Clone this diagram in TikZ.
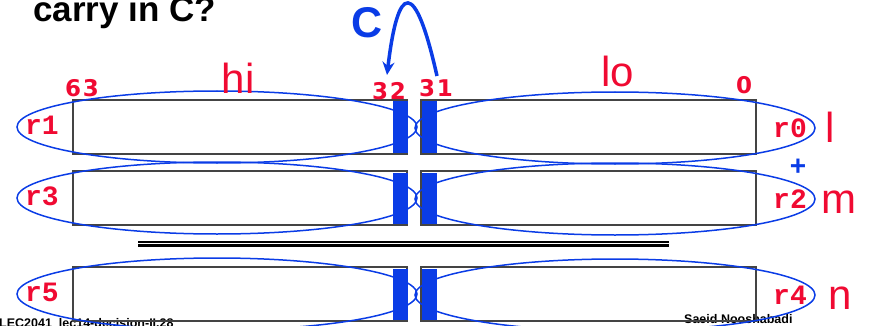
\documentclass[tikz,border=0pt]{standalone}
\usepackage{fontspec}
\setmainfont{Liberation Sans}
\newfontfamily\regFont{Liberation Mono}
\newfontfamily\bitFont{DejaVu Sans}[LetterSpace=8]
\usetikzlibrary{shapes.geometric,arrows.meta}

\begin{document}
\begin{tikzpicture}[x=1pt, y=-1pt,
    regBox/.style={draw=boxColour, line width=1.2pt, minimum height=54pt, inner sep=0pt},
    carryBar/.style={fill=ringColour, minimum width=15pt, minimum height=51pt, inner sep=0pt},
    halfRing/.style={draw=ringColour, line width=1.5pt, ellipse, minimum width=400pt, minimum height=72pt, inner sep=0pt},
    regName/.style={text=labelColour, font=\regFont\bfseries\fontsize{28}{28}\selectfont, inner sep=0pt, anchor=base},
    bitNo/.style={text=labelColour, font=\bitFont\bfseries\fontsize{23}{23}\selectfont, inner sep=0pt, anchor=base},
    bigName/.style={text=labelColour, font=\fontsize{42}{42}\selectfont, inner sep=0pt, anchor=base},
    footer/.style={font=\bfseries\fontsize{12.5}{12.5}\selectfont, inner sep=0pt, anchor=base west},
    carryArrow/.style={draw=ringColour, line width=3.5pt, -{Stealth[length=13pt,width=12pt]}}]
    \definecolor{boxColour}{HTML}{444444}
    \definecolor{ringColour}{HTML}{0A3CE6}
    \definecolor{labelColour}{HTML}{F00A32}

    \useasboundingbox (0,0) rectangle (869,326);

    \node[font=\bfseries\fontsize{35}{35}\selectfont, inner sep=0pt, anchor=base west] (title) at (33,22) {carry in C?};

    \node[footer] (lecNote) at (-1,327) {LEC2041\ \ lec14-decision-II.28};
    \node[footer] (author) at (684,323) {Saeid Nooshabadi};

    \foreach \n/\y/\hn/\ln/\v/\vx in {1/127/r1/r0/l/830, 2/198/r3/r2/m/839, 3/294/r5/r4/n/840} {
        \node[regBox, minimum width=334pt] (hi\n) at (240,\y) {};
        \node[regBox, minimum width=335pt] (lo\n) at (588.5,\y) {};
        \node[carryBar] (hiBar\n) at (400.5,\y) {};
        \node[carryBar] (loBar\n) at (429,\y) {};
        \node[halfRing] (hiRing\n) at (217,\y) {};
        \node[halfRing] (loRing\n) at (615,\y+1) {};
        \node[regName] (hiName\n) at (42,\y+7) {\hn};
        \node[regName] (loName\n) at (790,\y+10) {\ln};
        \node[bigName] (var\n) at (\vx,\y+15) {\v};
    }

    \node[text=ringColour, font=\bfseries\fontsize{28}{28}\selectfont, inner sep=0pt, anchor=base] (plus) at (798,175) {+};

    \draw[black, line width=1.2pt] (138,242) -- (669,242);
    \draw[black, line width=2.5pt] (138,245.5) -- (669,245.5);

    \node[bitNo] (b63) at (82,97) {63};
    \node[bitNo] (b32) at (389,100) {32};
    \node[bitNo] (b31) at (436,97) {31};
    \node[bitNo] (b0) at (744,94) {0};

    \node[bigName] (hiText) at (238,94) {hi};
    \node[bigName] (loText) at (618,87) {lo};

    \node[text=ringColour, font=\bfseries\fontsize{43}{43}\selectfont, inner sep=0pt, anchor=base] (carryC) at (367,38) {C};

    \coordinate (cFrom) at ([shift={(1,-21)}]b31.base);
    \coordinate (cTo) at ([shift={(-2,-25)}]b32.base);
    \draw[carryArrow] (cFrom) .. controls (415,-22) and (398,-18) .. (cTo);

\end{tikzpicture}
\end{document}
